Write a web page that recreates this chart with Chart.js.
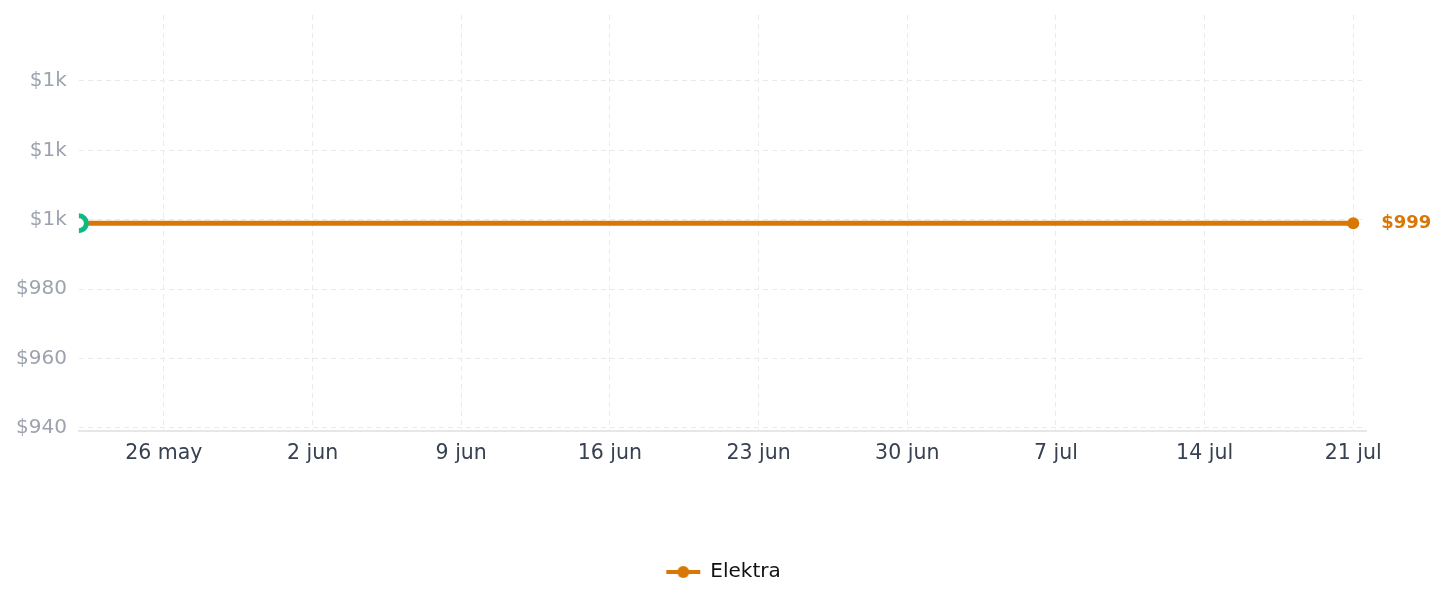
<!DOCTYPE html>
<html>
<head>
<meta charset="utf-8">
<script src="https://cdn.jsdelivr.net/npm/chart.js@4/dist/chart.umd.min.js"></script>
<style>
  html, body { margin: 0; padding: 0; background: #ffffff; }
  #wrap { width: 1447px; height: 607px; position: relative; }
</style>
</head>
<body>
<div id="wrap"><canvas id="c"></canvas></div>
<script>
// Days counted from 22 May
const seriesName = "Elektra";
const pointDays = [0, 4, 11, 18, 25, 32, 39, 46, 53, 60];
const prices = [999, 999, 999, 999, 999, 999, 999, 999, 999, 999];
const xTickDays = [4, 11, 18, 25, 32, 39, 46, 53, 60];
const xTickLabels = ["26 may", "2 jun", "9 jun", "16 jun", "23 jun", "30 jun", "7 jul", "14 jul", "21 jul"];
const yTickValues = [940, 960, 980, 1000, 1020, 1040];
const startMarkerDay = [0];
const startMarkerPrice = [999];

const ORANGE = '#d97706';
const GREEN = '#10b981';
const GRID = '#e8eaee';
Chart.defaults.font.family = '"DejaVu Sans", sans-serif';

const legendIcon = document.createElement('canvas');
legendIcon.width = 36; legendIcon.height = 14;
(function () {
  const g = legendIcon.getContext('2d');
  g.strokeStyle = ORANGE; g.lineWidth = 4;
  g.beginPath(); g.moveTo(1, 7); g.lineTo(35, 7); g.stroke();
  g.fillStyle = ORANGE;
  g.beginPath(); g.arc(18, 7, 6, 0, Math.PI * 2); g.fill();
})();

const lastLabel = {
  id: 'lastLabel',
  afterDatasetsDraw(chart) {
    const meta = chart.getDatasetMeta(0);
    const pt = meta.data[meta.data.length - 1];
    const v = prices[prices.length - 1];
    const ctx = chart.ctx;
    ctx.save();
    ctx.font = 'bold 18px "DejaVu Sans"';
    ctx.fillStyle = ORANGE;
    ctx.textBaseline = 'middle';
    ctx.textAlign = 'left';
    ctx.fillText('$' + v, pt.x + 28, pt.y);
    ctx.restore();
  }
};

new Chart(document.getElementById('c'), {
  type: 'line',
  data: {
    datasets: [
      {
        label: seriesName,
        data: pointDays.map((d, i) => ({ x: d, y: prices[i] })),
        borderColor: ORANGE,
        backgroundColor: ORANGE,
        borderWidth: 5,
        pointRadius: pointDays.map((d, i) => i === pointDays.length - 1 ? 6 : 0),
        pointBackgroundColor: ORANGE,
        pointBorderWidth: 0,
        tension: 0,
        order: 2
      },
      {
        label: 'start',
        data: startMarkerDay.map((d, i) => ({ x: d, y: startMarkerPrice[i] })),
        showLine: false,
        pointRadius: 7.5,
        pointBorderWidth: 5,
        pointBorderColor: GREEN,
        pointBackgroundColor: '#ffffff',
        borderColor: GREEN,
        backgroundColor: '#ffffff',
        order: 1
      }
    ]
  },
  options: {
    responsive: true,
    maintainAspectRatio: false,
    animation: false,
    layout: { padding: { top: 15, right: 0, bottom: 15, left: 0 } },
    scales: {
      x: {
        type: 'linear',
        min: 0,
        max: 60.6,
        afterBuildTicks: (axis) => { axis.ticks = xTickDays.map(v => ({ value: v })); },
        afterFit: (axis) => { axis.height += 76; },
        ticks: {
          callback: (v, i) => xTickLabels[i],
          color: '#374151',
          font: { size: 20.5 },
          padding: 10,
          maxRotation: 0,
          autoSkip: false
        },
        grid: { color: GRID, lineWidth: 1, drawTicks: false },
        border: { display: true, color: '#e5e7eb', width: 2, dash: [5, 4] }
      },
      y: {
        min: 939,
        max: 1059,
        afterBuildTicks: (axis) => { axis.ticks = yTickValues.map(v => ({ value: v })); },
        afterFit: (axis) => { axis.width += 4; axis.paddingTop = 0; axis.paddingBottom = 0; },
        ticks: {
          callback: (v) => v >= 1000 ? '$' + Math.round(v / 1000) + 'k' : '$' + v,
          color: '#9ca3af',
          font: { size: 20 },
          padding: 12
        },
        grid: { color: GRID, lineWidth: 1, drawTicks: false },
        border: { display: false, dash: [5, 4] }
      },
      yRight: {
        position: 'right',
        display: true,
        afterFit: (axis) => { axis.width = 81; axis.paddingTop = 0; axis.paddingBottom = 0; },
        ticks: { display: false },
        grid: { display: false, drawTicks: false },
        border: { display: false }
      }
    },
    plugins: {
      tooltip: { enabled: false },
      legend: {
        position: 'bottom',
        labels: {
          filter: (item) => item.datasetIndex === 0,
          usePointStyle: true,
          pointStyle: legendIcon,
          pointStyleWidth: 34,
          boxHeight: 14,
          color: '#111111',
          font: { size: 20 },
          padding: 10,
          generateLabels: (chart) => {
            const items = Chart.defaults.plugins.legend.labels.generateLabels(chart);
            items.forEach(it => { it.pointStyle = legendIcon; it.fontColor = '#111111'; });
            return items;
          }
        }
      }
    }
  },
  plugins: [lastLabel]
});
</script>
</body>
</html>
